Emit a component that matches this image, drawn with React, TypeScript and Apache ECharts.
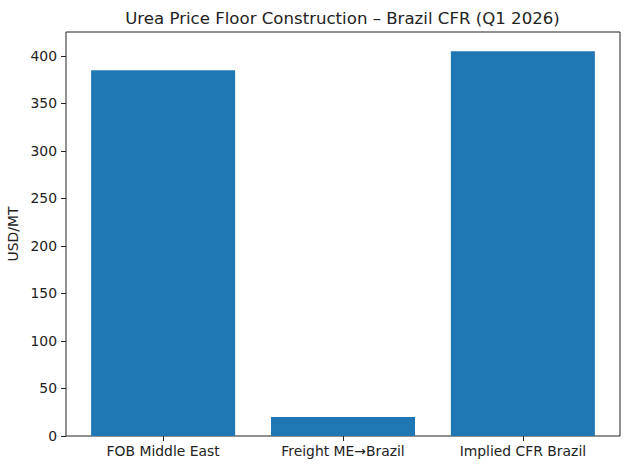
import React, { useEffect, useRef } from 'react';
import * as echarts from 'echarts';

const categories = ['FOB Middle East', 'Freight ME→Brazil', 'Implied CFR Brazil'];
const prices = [385, 20, 405];
const yTicks = [0, 50, 100, 150, 200, 250, 300, 350, 400];

const FONT = '"DejaVu Sans", sans-serif';

const App: React.FC = () => {
  const chartRef = useRef<HTMLDivElement>(null);

  useEffect(() => {
    if (!chartRef.current) return;
    const chart = echarts.init(chartRef.current, undefined, { renderer: 'svg' });

    chart.setOption({
      animation: false,
      backgroundColor: '#ffffff',
      textStyle: { fontFamily: FONT },
      title: {
        text: 'Urea Price Floor Construction – Brazil CFR (Q1 2026)',
        left: 337.5,
        top: 5,
        textAlign: 'center',
        textStyle: { fontFamily: FONT, fontSize: 16.6, fontWeight: 'normal', color: '#222' },
      },
      grid: {
        left: 66,
        right: 10,
        top: 32,
        bottom: 34,
        containLabel: false,
        outerBoundsMode: 'none',
        show: true,
        borderColor: '#222',
        borderWidth: 1,
        backgroundColor: 'transparent',
      },
      xAxis: {
        type: 'value',
        min: -0.54,
        max: 2.54,
        splitLine: { show: false },
        axisLine: { show: false, onZero: false },
        axisTick: {
          show: true,
          length: 5,
          lineStyle: { color: '#222' },
          customValues: [0, 1, 2],
        },
        axisLabel: {
          color: '#222',
          fontSize: 13.9,
          fontFamily: FONT,
          margin: 8,
          customValues: [0, 1, 2],
          formatter: (v: number) => categories[Math.round(v)] ?? '',
        },
      },
      yAxis: {
        type: 'value',
        min: 0,
        max: 425.25,
        name: 'USD/MT',
        nameLocation: 'middle',
        nameGap: 44,
        nameTextStyle: { color: '#222', fontSize: 13.9, fontFamily: FONT },
        splitLine: { show: false },
        axisLine: { show: false, onZero: false },
        axisTick: {
          show: true,
          length: 5,
          lineStyle: { color: '#222' },
          customValues: yTicks,
        },
        axisLabel: {
          color: '#222',
          fontSize: 13.9,
          fontFamily: FONT,
          margin: 9,
          customValues: yTicks,
        },
      },
      series: [
        {
          type: 'bar',
          data: prices.map((v, i) => [i, v]),
          barWidth: 144,
          itemStyle: { color: '#1f77b4' },
        },
      ],
    });

    return () => {
      chart.dispose();
    };
  }, []);

  return (
    <div
      ref={chartRef}
      style={{ position: 'fixed', left: 0, top: 0, width: '630px', height: '470px' }}
    />
  );
};

export default App;
